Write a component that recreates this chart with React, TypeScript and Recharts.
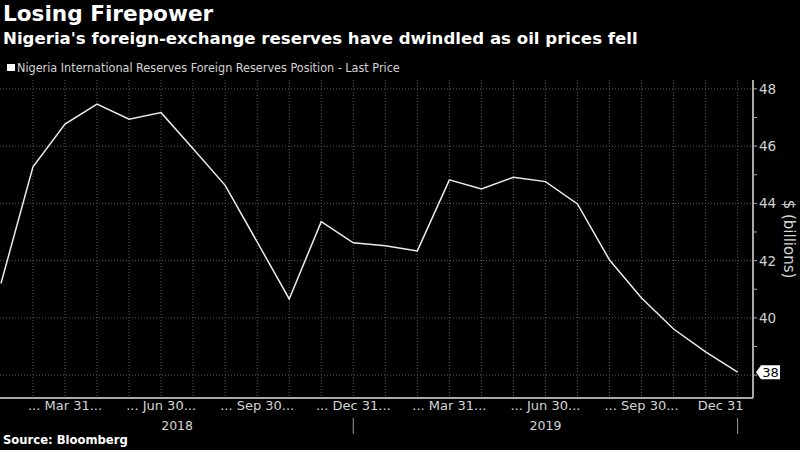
import { LineChart, Line, XAxis, YAxis, CartesianGrid, ReferenceDot } from "recharts";

// monthly end-of-month values, Jan 2018 .. Dec 2019 ($ billions)
const reserves = [
  41.2, 45.28, 46.77, 47.47, 46.94, 47.17, 45.91, 44.63, 42.65, 40.66, 43.36, 42.62,
  42.52, 42.34, 44.82, 44.5, 44.91, 44.76, 43.98, 42.02, 40.69, 39.61, 38.81, 38.1,
];
const monthTicks = [2, 5, 8, 11, 14, 17, 20, 23];
const monthLabels = [
  "... Mar 31...", "... Jun 30...", "... Sep 30...", "... Dec 31...",
  "... Mar 31...", "... Jun 30...", "... Sep 30...", "Dec 31",
];
const yearTicks = [5.5, 17];
const yearLabels = ["2018", "2019"];
const yearEnds = [11, 23];
const valueTicks = [38, 39, 40, 41, 42, 43, 44, 45, 46, 47, 48];
const labelledValues = [40, 42, 44, 46, 48];
const gridValues = [38, 40, 42, 44, 46, 48];

const data = reserves.map((v, i) => ({ i, v }));
const gridMonths = data.map((d) => d.i).filter((i) => i > 0);
const xDomain = [-0.03, 23.48];

const FONT = "'DejaVu Sans', sans-serif";
const COND = "'DejaVu Sans Condensed', 'DejaVu Sans', sans-serif";
const TXT = "#d4d4d4";

const MonthTick = (props: any) => {
  const { x, y, payload } = props;
  const k = monthTicks.indexOf(payload.value);
  const last = k === monthTicks.length - 1;
  return (
    <text x={last ? x + 6 : x} y={y + 10} textAnchor={last ? "end" : "middle"} fill={TXT} fontSize={13} fontFamily={FONT}>
      {monthLabels[k]}
    </text>
  );
};

const YearTick = (props: any) => {
  const { x, y, payload } = props;
  if (yearEnds.includes(payload.value)) {
    return <line x1={x} x2={x} y1={y - 2} y2={y + 14} stroke="#9a9a9a" strokeWidth={1} />;
  }
  const k = yearTicks.indexOf(payload.value);
  return (
    <text x={x} y={y + 10} textAnchor="middle" fill={TXT} fontSize={12.5} fontFamily={FONT}>
      {yearLabels[k]}
    </text>
  );
};

const ValueTick = (props: any) => {
  const { x, y, payload } = props;
  if (!labelledValues.includes(payload.value)) return <g />;
  return (
    <text x={x} y={y + 5} textAnchor="start" fill={TXT} fontSize={13.5} fontFamily={FONT}>
      {payload.value}
    </text>
  );
};

const LastTag = (props: any) => {
  const { cx, cy } = props;
  const v = Math.round(reserves[reserves.length - 1]);
  return (
    <g>
      <polygon
        points={`${cx + 3},${cy} ${cx + 8},${cy - 7} ${cx + 27},${cy - 7} ${cx + 27},${cy + 7} ${cx + 8},${cy + 7}`}
        fill="#ffffff"
      />
      <text x={cx + 17.5} y={cy + 5} textAnchor="middle" fill="#000" fontSize={13} fontFamily={FONT}>
        {v}
      </text>
    </g>
  );
};

export default function App() {
  return (
    <div style={{ position: "absolute", left: 0, top: 0, width: 800, height: 450, background: "#000", overflow: "hidden", fontFamily: FONT }}>
      <div style={{ position: "absolute", left: 3, top: 1, color: "#fff", fontSize: 21.6, fontWeight: 700 }}>
        Losing Firepower
      </div>
      <div style={{ position: "absolute", left: 3, top: 29, color: "#fff", fontSize: 16.6, fontWeight: 700 }}>
        Nigeria's foreign-exchange reserves have dwindled as oil prices fell
      </div>
      <div style={{ position: "absolute", left: 7, top: 60, color: TXT, fontSize: 12.5, fontFamily: COND, display: "flex", alignItems: "center" }}>
        <span style={{ display: "inline-block", width: 8, height: 7, background: "#fff", marginRight: 2 }} />
        Nigeria International Reserves Foreign Reserves Position - Last Price
      </div>
      <div style={{ position: "absolute", left: 3, top: 433, color: "#fff", fontSize: 11.6, fontWeight: 700 }}>
        Source: Bloomberg
      </div>
      <div style={{ position: "absolute", left: 0, top: 0 }}>
        <LineChart width={800} height={450} data={data} margin={{ top: 80, right: 0, bottom: 0, left: 0 }}>
          <CartesianGrid
            xAxisId="m"
            stroke="#5a5a5a"
            strokeDasharray="1 2"
            horizontalValues={gridValues}
            verticalValues={gridMonths}
          />
          <XAxis
            xAxisId="m"
            dataKey="i"
            type="number"
            domain={xDomain}
            allowDataOverflow
            ticks={monthTicks}
            interval={0}
            height={20}
            axisLine={{ stroke: "#a8a8a8", strokeWidth: 2 }}
            tickLine={false}
            tickSize={0}
            tick={<MonthTick />}
          />
          <XAxis
            xAxisId="y"
            dataKey="i"
            type="number"
            domain={xDomain}
            allowDataOverflow
            ticks={[...yearTicks, ...yearEnds]}
            interval={0}
            height={32}
            axisLine={false}
            tickLine={false}
            tickSize={0}
            tick={<YearTick />}
          />
          <YAxis
            orientation="right"
            domain={[37.2, 48.31]}
            allowDataOverflow
            ticks={valueTicks}
            interval={0}
            width={47}
            tickSize={4}
            tickMargin={2}
            axisLine={{ stroke: "#a8a8a8", strokeWidth: 2 }}
            tickLine={{ stroke: "#a8a8a8" }}
            tick={<ValueTick />}
            label={{ value: "$ (billions)", angle: 90, position: "center", dx: 13, fill: TXT, fontSize: 15, fontFamily: FONT }}
          />
          <Line
            xAxisId="m"
            dataKey="v"
            stroke="#ececec"
            strokeWidth={1.5}
            dot={false}
            isAnimationActive={false}
          />
          <ReferenceDot xAxisId="m" x={xDomain[1]} y={reserves[reserves.length - 1]} ifOverflow="visible" shape={<LastTag />} />
        </LineChart>
      </div>
    </div>
  );
}
